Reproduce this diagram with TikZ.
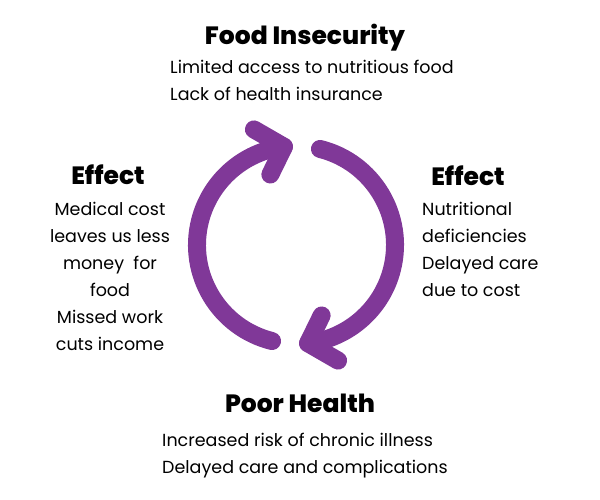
\documentclass[tikz,border=0pt]{standalone}
\usepackage{fontspec}
\setmainfont{Poppins}
\newfontfamily\headfont{Poppins ExtraBold}
\usepackage{tikz}
\usetikzlibrary{positioning}
\definecolor{cyclepurple}{RGB}{128,56,152}
\tikzset
{
    heading/.style  = {anchor=base, font=\fontsize{25}{28}\selectfont\headfont},
    bodytext/.style = {font=\fontsize{17.5}{27}\selectfont, inner sep=0pt},
    cyclearc/.style = {draw=cyclepurple, line width=18pt, line cap=round, line join=round}
}
\begin{document}
\begin{tikzpicture}[x=1pt, y=1pt]
    \useasboundingbox (0,0) rectangle (600,500);
    \coordinate (c) at (296,255);
    % the two arrows of the cycle
    \foreach \r in {0,180}
    {
        \draw [cyclearc] ([shift={(256+\r:99)}]c) arc [start angle=256+\r, end angle=97+\r, radius=99];
        \draw [cyclearc] ([shift={(110+\r:123)}]c) -- ([shift={(97+\r:99)}]c) -- ([shift={(110+\r:75)}]c);
    }
    % texts (base anchor = last line)
    \node [heading] (foodhead) at (305,455.5) {Food Insecurity};
    \node [bodytext, anchor=base west, align=left] (foodtext) at (170,399) {Limited access to nutritious food\\Lack of health insurance};
    \node [heading] (effectleft) at (108,315.5) {Effect};
    \node [bodytext, anchor=base, align=center] (lefttext) at (110,149) {Medical cost\\leaves us less\\money~~for\\food\\Missed work\\cuts income};
    \node [heading] (effectright) at (468,314.5) {Effect};
    \node [bodytext, anchor=base west, align=left] (righttext) at (422,203) {Nutritional\\deficiencies\\Delayed care\\due to cost};
    \node [heading] (healthhead) at (300,87.5) {Poor Health};
    \node [bodytext, anchor=base west, align=left] (healthtext) at (162,26) {Increased risk of chronic illness\\Delayed care and complications};
\end{tikzpicture}
\end{document}
